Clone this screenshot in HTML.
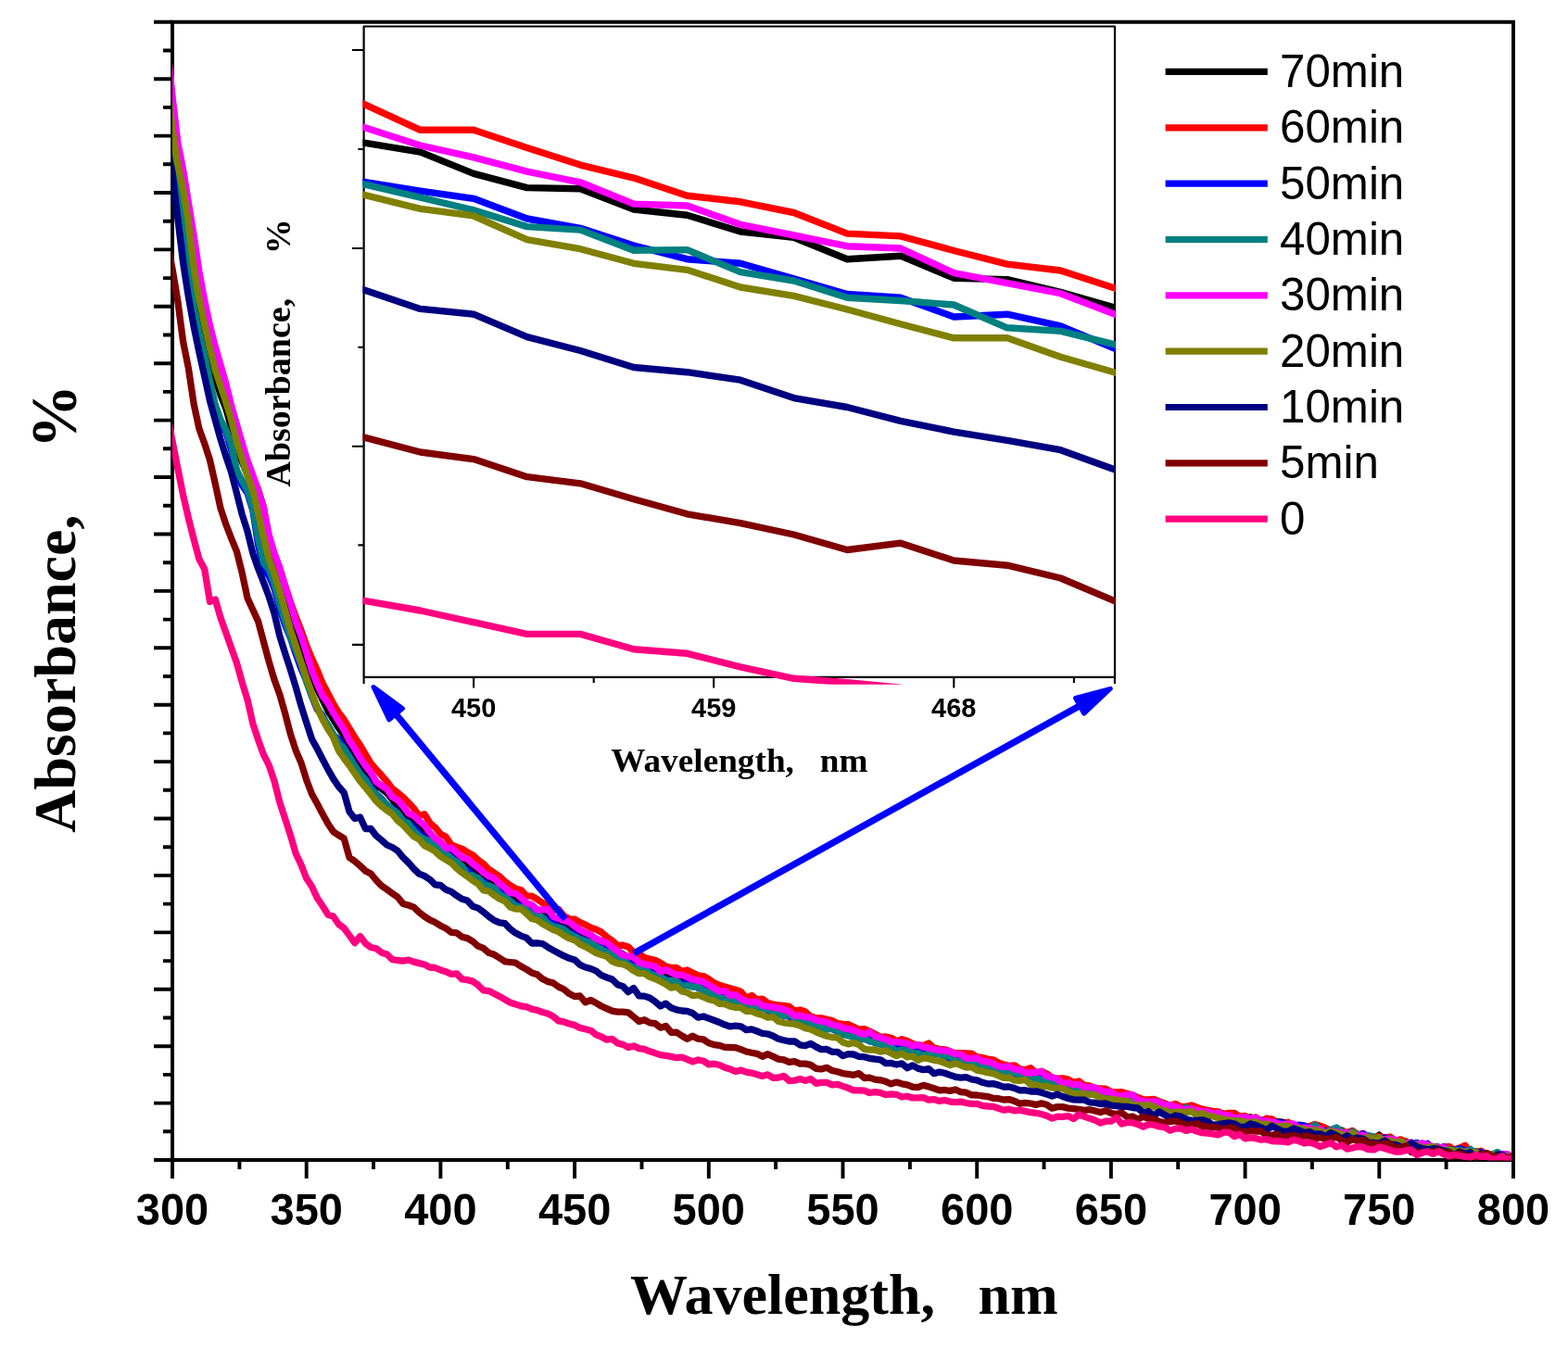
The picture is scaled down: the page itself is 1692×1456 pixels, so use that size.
<!DOCTYPE html><html><head><meta charset="utf-8"><style>html,body{margin:0;padding:0;background:#fff;}svg{display:block;}</style></head><body>
<svg width="1692" height="1456" viewBox="0 0 1692 1456">
<rect width="1692" height="1456" fill="#fff"/>
<defs><clipPath id="ci"><rect x="391.4" y="20" width="812.4" height="718.7"/></clipPath><clipPath id="cm"><rect x="186" y="0" width="1445" height="1252.5"/></clipPath></defs>
<g stroke="#000" fill="none" stroke-width="3.9" stroke-linecap="butt">
<path d="M184 23.8H1635 M1633 23.8V1254 M1635 1252H184 M186 1254V21.8"/>
<path d="M166 1252H186 M176 1221.3H186 M166 1190.6H186 M176 1159.9H186 M166 1129.2H186 M176 1098.5H186 M166 1067.8H186 M176 1037.1H186 M166 1006.4H186 M176 975.6H186 M166 944.9H186 M176 914.2H186 M166 883.5H186 M176 852.8H186 M166 822.1H186 M176 791.4H186 M166 760.7H186 M176 730H186 M166 699.3H186 M176 668.6H186 M166 637.9H186 M176 607.2H186 M166 576.5H186 M176 545.8H186 M166 515H186 M176 484.3H186 M166 453.6H186 M176 422.9H186 M166 392.2H186 M176 361.5H186 M166 330.8H186 M176 300.1H186 M166 269.4H186 M176 238.7H186 M166 208H186 M176 177.3H186 M166 146.6H186 M176 115.9H186 M166 85.2H186 M176 54.5H186 M166 23.8H186 M186 1252V1272 M258.4 1252V1262 M330.7 1252V1272 M403 1252V1262 M475.4 1252V1272 M547.8 1252V1262 M620.1 1252V1272 M692.5 1252V1262 M764.8 1252V1272 M837.1 1252V1262 M909.5 1252V1272 M981.9 1252V1262 M1054.2 1252V1272 M1126.5 1252V1262 M1198.9 1252V1272 M1271.2 1252V1262 M1343.6 1252V1272 M1415.9 1252V1262 M1488.3 1252V1272 M1560.6 1252V1262 M1633 1252V1272"/>
</g>
<g fill="none" stroke-width="7.3" stroke-linejoin="round" stroke-linecap="butt" clip-path="url(#cm)">
<polyline stroke="#000000" points="180.2,106.6 186,155.2 191.8,187.8 197.6,209.6 203.4,251 209.2,303.3 214.9,334.2 220.7,360.3 226.5,387.2 232.3,408.3 238.1,426.5 243.9,441.1 249.7,462.1 255.5,484.9 261.2,498.4 267,512.2 272.8,531.3 278.6,556.2 284.4,576.9 290.2,594.9 296,614.3 301.8,628.9 307.5,647 313.3,665.8 319.1,682.2 324.9,698.5 330.7,715.8 336.5,729.2 342.3,743.4 348.1,755.5 353.9,767.1 359.6,776.4 365.4,785.7 371.2,793.9 377,803.3 382.8,812.7 388.6,822.6 394.4,832.9 400.2,836.8 405.9,847.1 411.7,851.3 417.5,855.8 423.3,863.1 429.1,869.6 434.9,877 440.7,880.4 446.5,888.1 452.2,893.8 458,897.1 463.8,902.5 469.6,909.5 475.4,914.5 481.2,919.4 487,922.8 492.8,926.7 498.6,930.4 504.3,935.8 510.1,937.4 515.9,942.7 521.7,947.6 527.5,949.4 533.3,957.1 539.1,958.5 544.9,963.4 550.6,970 556.4,969.7 562.2,973.3 568,979 573.8,978.6 579.6,982.3 585.4,986.4 591.2,989.3 596.9,992.4 602.7,995.1 608.5,999.2 614.3,1001.7 620.1,1004.1 625.9,1005.3 631.7,1008.2 637.5,1009.6 643.3,1015.8 649,1015.8 654.8,1022.4 660.6,1026.8 666.4,1026.4 672.2,1030 678,1033.3 683.8,1037.8 689.6,1038.4 695.3,1041.8 701.1,1043.7 706.9,1046.4 712.7,1050.5 718.5,1049.7 724.3,1052.8 730.1,1054.7 735.9,1056.9 741.6,1055.8 747.4,1060.5 753.2,1061.7 759,1064.7 764.8,1066.4 770.6,1066.6 776.4,1069.9 782.2,1073.7 788,1074.7 793.7,1076.5 799.5,1080.5 805.3,1082.8 811.1,1081.8 816.9,1085.9 822.7,1082.8 828.5,1084.4 834.3,1089.7 840,1090 845.8,1092.8 851.6,1094.5 857.4,1095.6 863.2,1098.3 869,1099.4 874.8,1099.1 880.6,1103 886.3,1104.8 892.1,1108.5 897.9,1106.7 903.7,1109.8 909.5,1110.9 915.3,1113 921.1,1116.8 926.9,1116.9 932.7,1117.4 938.4,1119.7 944.2,1122 950,1121.3 955.8,1123.7 961.6,1127.2 967.4,1127.7 973.2,1127.9 979,1128.6 984.7,1130.2 990.5,1129.6 996.3,1133.8 1002.1,1134.2 1007.9,1135.1 1013.7,1134.5 1019.5,1136.3 1025.3,1139 1031,1139.9 1036.8,1140.3 1042.6,1142.9 1048.4,1144.8 1054.2,1144.2 1060,1145.8 1065.8,1146.8 1071.6,1147.9 1077.4,1151.8 1083.1,1153 1088.9,1154.3 1094.7,1153.8 1100.5,1155.5 1106.3,1158.2 1112.1,1159.2 1117.9,1161.3 1123.7,1161.7 1129.4,1164.9 1135.2,1167.8 1141,1168.9 1146.8,1170.5 1152.6,1169.9 1158.4,1172.5 1164.2,1172.2 1170,1175.4 1175.7,1175.1 1181.5,1176.3 1187.3,1177.5 1193.1,1180.6 1198.9,1181.3 1204.7,1182.5 1210.5,1182 1216.3,1184.9 1222.1,1184 1227.8,1189.2 1233.6,1188.2 1239.4,1189.8 1245.2,1190.5 1251,1189.6 1256.8,1191 1262.6,1194 1268.4,1197.2 1274.1,1194.6 1279.9,1196.2 1285.7,1198.2 1291.5,1196.9 1297.3,1197.8 1303.1,1200.6 1308.9,1202 1314.7,1202.4 1320.4,1206.1 1326.2,1204.5 1332,1206.1 1337.8,1208.8 1343.6,1209.8 1349.4,1205.8 1355.2,1208.5 1361,1211.6 1366.8,1208.6 1372.5,1210.2 1378.3,1210.5 1384.1,1211.2 1389.9,1212.5 1395.7,1215.4 1401.5,1218 1407.3,1219.2 1413.1,1217.7 1418.8,1215.4 1424.6,1219.3 1430.4,1219.7 1436.2,1221.7 1442,1221.8 1447.8,1219.9 1453.6,1224.4 1459.4,1221.2 1465.1,1224.4 1470.9,1227 1476.7,1228 1482.5,1231 1488.3,1225.1 1494.1,1230.8 1499.9,1232.3 1505.7,1231.5 1511.5,1234.1 1517.2,1231.9 1523,1236 1528.8,1236.7 1534.6,1234.8 1540.4,1236.3 1546.2,1238 1552,1237.9 1557.8,1241.9 1563.5,1241.1 1569.3,1244 1575.1,1244.5 1580.9,1243.2 1586.7,1243.5 1592.5,1242.8 1598.3,1243.8 1604.1,1244.6 1609.8,1247.6 1615.6,1246 1621.4,1248.6 1627.2,1249.6 1633,1249"/>
<polyline stroke="#FF0000" points="180.2,51.9 186,107.9 191.8,157.2 197.6,184.8 203.4,222.5 209.2,258 214.9,296.8 220.7,327.2 226.5,353 232.3,379.2 238.1,395.3 243.9,416.3 249.7,439.9 255.5,458.7 261.2,481.1 267,497.8 272.8,515 278.6,528.3 284.4,547.4 290.2,579.9 296,598.1 301.8,613.4 307.5,631.4 313.3,649.6 319.1,665.5 324.9,680.4 330.7,696.5 336.5,710.8 342.3,723.3 348.1,737.4 353.9,748.5 359.6,759.4 365.4,769 371.2,776.8 377,786.1 382.8,795.9 388.6,804.3 394.4,814.2 400.2,823.9 405.9,830.4 411.7,836.8 417.5,843.5 423.3,851.2 429.1,855.5 434.9,860.5 440.7,866.1 446.5,872.4 452.2,880.6 458,878.6 463.8,888.2 469.6,893.2 475.4,900.1 481.2,903.3 487,911.9 492.8,914.1 498.6,916.1 504.3,919.9 510.1,922.7 515.9,928.1 521.7,932.4 527.5,938.3 533.3,942.1 539.1,946 544.9,951.5 550.6,955.7 556.4,959.2 562.2,960.5 568,966.9 573.8,967.2 579.6,970.4 585.4,974.4 591.2,978.2 596.9,982.4 602.7,981.5 608.5,988.6 614.3,991.8 620.1,992.2 625.9,995.6 631.7,998.1 637.5,1001.2 643.3,1003.3 649,1006.1 654.8,1011.3 660.6,1015.2 666.4,1020.5 672.2,1020.2 678,1022 683.8,1027.8 689.6,1029.8 695.3,1033.4 701.1,1035 706.9,1036.2 712.7,1039.2 718.5,1043.1 724.3,1044.3 730.1,1044.5 735.9,1048.3 741.6,1047 747.4,1049.9 753.2,1052.8 759,1053.5 764.8,1056.6 770.6,1060.9 776.4,1063.1 782.2,1065.1 788,1066.8 793.7,1068.2 799.5,1070.5 805.3,1077.1 811.1,1074.5 816.9,1078.9 822.7,1078.1 828.5,1082.4 834.3,1084 840,1084.9 845.8,1085.4 851.6,1086.3 857.4,1091 863.2,1090 869,1091.9 874.8,1097.1 880.6,1098.8 886.3,1098.8 892.1,1100.3 897.9,1101.5 903.7,1104.5 909.5,1105.3 915.3,1105.7 921.1,1108.3 926.9,1111.2 932.7,1110.6 938.4,1113 944.2,1115.9 950,1119.3 955.8,1119 961.6,1120.2 967.4,1123.9 973.2,1121.7 979,1123.4 984.7,1126.5 990.5,1128 996.3,1128.5 1002.1,1126 1007.9,1131.2 1013.7,1132.3 1019.5,1132.8 1025.3,1134.8 1031,1137 1036.8,1136.7 1042.6,1136.8 1048.4,1137.1 1054.2,1140.9 1060,1141.4 1065.8,1143 1071.6,1143.8 1077.4,1147 1083.1,1149.1 1088.9,1150.3 1094.7,1149.8 1100.5,1153.9 1106.3,1154.6 1112.1,1152.6 1117.9,1158 1123.7,1156.1 1129.4,1158.7 1135.2,1163.1 1141,1164.1 1146.8,1163.9 1152.6,1165.1 1158.4,1168.2 1164.2,1167 1170,1171.4 1175.7,1171.9 1181.5,1174.7 1187.3,1175 1193.1,1175.2 1198.9,1178.3 1204.7,1178.9 1210.5,1178.7 1216.3,1180.4 1222.1,1181.8 1227.8,1184.5 1233.6,1186.7 1239.4,1186.9 1245.2,1186.5 1251,1188.8 1256.8,1191.2 1262.6,1193.1 1268.4,1191.4 1274.1,1194.2 1279.9,1194.4 1285.7,1193 1291.5,1195.2 1297.3,1197.2 1303.1,1198.3 1308.9,1199.4 1314.7,1200 1320.4,1202.3 1326.2,1201.3 1332,1201.3 1337.8,1205.2 1343.6,1204.4 1349.4,1207.4 1355.2,1205.9 1361,1210 1366.8,1207 1372.5,1207.9 1378.3,1211.7 1384.1,1214.3 1389.9,1211.2 1395.7,1215.8 1401.5,1216.7 1407.3,1216.4 1413.1,1215.7 1418.8,1213.4 1424.6,1215.3 1430.4,1217.4 1436.2,1220.4 1442,1220.2 1447.8,1220.3 1453.6,1222.5 1459.4,1220.4 1465.1,1224.8 1470.9,1223.4 1476.7,1228.2 1482.5,1227.2 1488.3,1226.6 1494.1,1227.9 1499.9,1227 1505.7,1231.1 1511.5,1229.9 1517.2,1232.5 1523,1235.7 1528.8,1235.1 1534.6,1236.3 1540.4,1241.2 1546.2,1238.5 1552,1240.1 1557.8,1238.4 1563.5,1237.4 1569.3,1240.9 1575.1,1239 1580.9,1236.3 1586.7,1243.9 1592.5,1244.2 1598.3,1242.3 1604.1,1247.7 1609.8,1245.8 1615.6,1245.8 1621.4,1245.7 1627.2,1250.7 1633,1248.3"/>
<polyline stroke="#0000FF" points="180.2,137.8 186,187.5 191.8,210.3 197.6,232 203.4,275.4 209.2,339.4 214.9,368 220.7,389.4 226.5,418.1 232.3,439.4 238.1,457.1 243.9,466.4 249.7,486.1 255.5,510.2 261.2,523.8 267,532.2 272.8,550.6 278.6,587.8 284.4,615.2 290.2,621.3 296,635.1 301.8,656.8 307.5,674 313.3,688.2 319.1,705.4 324.9,721.6 330.7,734.7 336.5,751.5 342.3,765.8 348.1,772.3 353.9,784 359.6,793.4 365.4,797.9 371.2,806.9 377,816.4 382.8,825.8 388.6,834.7 394.4,840.8 400.2,849.3 405.9,857 411.7,862.2 417.5,869.2 423.3,872.3 429.1,877.3 434.9,885.3 440.7,888.1 446.5,892.6 452.2,899.6 458,904.3 463.8,909.6 469.6,913.4 475.4,916.6 481.2,920.7 487,925 492.8,931.9 498.6,937.4 504.3,939.1 510.1,944.3 515.9,948.4 521.7,951.6 527.5,955.7 533.3,959.7 539.1,961.8 544.9,967 550.6,972.2 556.4,976.2 562.2,978.1 568,981.1 573.8,985.5 579.6,990.4 585.4,989.7 591.2,993 596.9,996.5 602.7,1000.8 608.5,1002.1 614.3,1006.8 620.1,1008.4 625.9,1013 631.7,1014.9 637.5,1017.7 643.3,1022.3 649,1022.8 654.8,1026.3 660.6,1031.2 666.4,1034.3 672.2,1036.5 678,1036.4 683.8,1042.7 689.6,1044.9 695.3,1046.5 701.1,1046.9 706.9,1052.7 712.7,1056 718.5,1056.5 724.3,1059.5 730.1,1058.8 735.9,1061.5 741.6,1062.1 747.4,1063.3 753.2,1066.1 759,1067.6 764.8,1070.1 770.6,1072.1 776.4,1074.5 782.2,1076.6 788,1078.9 793.7,1079 799.5,1082.7 805.3,1081.8 811.1,1085.8 816.9,1087.5 822.7,1086.2 828.5,1090.3 834.3,1093.7 840,1094.6 845.8,1095.2 851.6,1096.9 857.4,1099.7 863.2,1101.3 869,1103.9 874.8,1104.9 880.6,1107.7 886.3,1108.8 892.1,1109.2 897.9,1110.7 903.7,1113 909.5,1115.9 915.3,1116.1 921.1,1119.9 926.9,1118.6 932.7,1121.7 938.4,1122.5 944.2,1125.5 950,1126.7 955.8,1127.8 961.6,1127.8 967.4,1129.5 973.2,1131 979,1134.2 984.7,1133.3 990.5,1135.8 996.3,1137.4 1002.1,1136.3 1007.9,1137.8 1013.7,1136.8 1019.5,1140.1 1025.3,1142.6 1031,1141.8 1036.8,1144.6 1042.6,1146.5 1048.4,1147.3 1054.2,1147.7 1060,1149.9 1065.8,1150.3 1071.6,1152 1077.4,1157 1083.1,1154.9 1088.9,1156.2 1094.7,1158.7 1100.5,1160.3 1106.3,1162.4 1112.1,1161.9 1117.9,1162.9 1123.7,1164.4 1129.4,1168 1135.2,1169.8 1141,1168.8 1146.8,1170.5 1152.6,1172.5 1158.4,1172.6 1164.2,1174.5 1170,1177.7 1175.7,1176.2 1181.5,1179.6 1187.3,1182 1193.1,1180.2 1198.9,1184.4 1204.7,1184.1 1210.5,1184.6 1216.3,1187.6 1222.1,1187.7 1227.8,1188.5 1233.6,1189.2 1239.4,1189.9 1245.2,1191.4 1251,1192.9 1256.8,1195.4 1262.6,1195.1 1268.4,1196.9 1274.1,1196.9 1279.9,1199.1 1285.7,1199.4 1291.5,1202.2 1297.3,1201.7 1303.1,1200 1308.9,1203 1314.7,1203.5 1320.4,1206.3 1326.2,1205.8 1332,1207.9 1337.8,1208.6 1343.6,1207.3 1349.4,1208.7 1355.2,1210 1361,1209.2 1366.8,1216.8 1372.5,1213.3 1378.3,1211.4 1384.1,1212 1389.9,1215.2 1395.7,1215.2 1401.5,1214.2 1407.3,1214.8 1413.1,1218.4 1418.8,1218.4 1424.6,1220.6 1430.4,1220.6 1436.2,1223.5 1442,1219.5 1447.8,1224.4 1453.6,1222.9 1459.4,1223.5 1465.1,1227.6 1470.9,1223.6 1476.7,1227.6 1482.5,1228.1 1488.3,1231.7 1494.1,1228 1499.9,1232.1 1505.7,1233.2 1511.5,1233.3 1517.2,1234.4 1523,1234.9 1528.8,1233.4 1534.6,1236 1540.4,1234.2 1546.2,1240.4 1552,1241.2 1557.8,1237.6 1563.5,1243.3 1569.3,1241.5 1575.1,1239.7 1580.9,1241.9 1586.7,1245.2 1592.5,1244.6 1598.3,1243.5 1604.1,1247.6 1609.8,1246.6 1615.6,1246.8 1621.4,1246.1 1627.2,1250.3 1633,1251.7"/>
<polyline stroke="#008080" points="180.2,131.7 186,179.5 191.8,205.6 197.6,227.4 203.4,267.3 209.2,332.3 214.9,359.1 220.7,383.8 226.5,410.9 232.3,436.8 238.1,453.1 243.9,464 249.7,480.8 255.5,507.3 261.2,519.1 267,529.7 272.8,548.1 278.6,580.9 284.4,607.6 290.2,614.4 296,630.6 301.8,651.9 307.5,669.9 313.3,687.4 319.1,701.5 324.9,717 330.7,735.7 336.5,751.3 342.3,763.1 348.1,774.2 353.9,782.3 359.6,792.2 365.4,802.3 371.2,808.1 377,817.3 382.8,826.6 388.6,835.4 394.4,842 400.2,851.1 405.9,857.6 411.7,863.6 417.5,868.5 423.3,873.9 429.1,877.6 434.9,886.1 440.7,888.8 446.5,896.7 452.2,902.5 458,905.8 463.8,908.2 469.6,910.9 475.4,915.8 481.2,921.5 487,926.6 492.8,930.1 498.6,935.1 504.3,943.7 510.1,945 515.9,947.5 521.7,954.1 527.5,956.2 533.3,958.3 539.1,965.4 544.9,967.9 550.6,972.5 556.4,978.2 562.2,979.3 568,981.4 573.8,987.7 579.6,986.1 585.4,990.4 591.2,996.8 596.9,1000 602.7,1000.9 608.5,1003.4 614.3,1007.7 620.1,1010.8 625.9,1013.6 631.7,1015.8 637.5,1017.7 643.3,1021.4 649,1024.8 654.8,1027.8 660.6,1030.5 666.4,1034.1 672.2,1035 678,1041.2 683.8,1044.5 689.6,1044.6 695.3,1046.1 701.1,1050.7 706.9,1053.3 712.7,1054.7 718.5,1058.2 724.3,1058.3 730.1,1059.4 735.9,1064.3 741.6,1063.5 747.4,1065.3 753.2,1064.9 759,1069.4 764.8,1071.2 770.6,1074 776.4,1076.8 782.2,1078 788,1078.1 793.7,1082.6 799.5,1083.5 805.3,1085.4 811.1,1086.4 816.9,1088.2 822.7,1088 828.5,1089.5 834.3,1092.2 840,1093.9 845.8,1096.7 851.6,1094.1 857.4,1099.2 863.2,1100.7 869,1104.8 874.8,1104.6 880.6,1106.5 886.3,1109 892.1,1111.2 897.9,1110.1 903.7,1112.7 909.5,1116.7 915.3,1118 921.1,1119.3 926.9,1122.8 932.7,1120.7 938.4,1124.2 944.2,1125 950,1127.4 955.8,1127.6 961.6,1130.2 967.4,1134.3 973.2,1133.1 979,1133.8 984.7,1136.6 990.5,1136.6 996.3,1139.5 1002.1,1136.9 1007.9,1137.7 1013.7,1137.6 1019.5,1140 1025.3,1140 1031,1145.3 1036.8,1144.9 1042.6,1146.7 1048.4,1147.6 1054.2,1148.8 1060,1149.9 1065.8,1149.8 1071.6,1155 1077.4,1154.1 1083.1,1158.3 1088.9,1158.4 1094.7,1157.3 1100.5,1160 1106.3,1161.4 1112.1,1162.6 1117.9,1163.9 1123.7,1166 1129.4,1166.6 1135.2,1167.8 1141,1170.2 1146.8,1171.5 1152.6,1172.1 1158.4,1174.7 1164.2,1174.9 1170,1177.3 1175.7,1178 1181.5,1180.9 1187.3,1178.2 1193.1,1184.1 1198.9,1182.5 1204.7,1185.9 1210.5,1184.6 1216.3,1186.3 1222.1,1188.3 1227.8,1188.3 1233.6,1189.2 1239.4,1190.8 1245.2,1194.2 1251,1190.8 1256.8,1194.2 1262.6,1197.3 1268.4,1196 1274.1,1199.6 1279.9,1195.3 1285.7,1197.5 1291.5,1199.6 1297.3,1200.1 1303.1,1201.1 1308.9,1203.9 1314.7,1202.3 1320.4,1205.2 1326.2,1206 1332,1206.2 1337.8,1210.5 1343.6,1207.6 1349.4,1212.1 1355.2,1208.8 1361,1211.4 1366.8,1212 1372.5,1211.1 1378.3,1214.3 1384.1,1216 1389.9,1216 1395.7,1215.8 1401.5,1218.7 1407.3,1218.6 1413.1,1218.8 1418.8,1214.2 1424.6,1219.5 1430.4,1222 1436.2,1219.4 1442,1217 1447.8,1221.5 1453.6,1223.5 1459.4,1221.7 1465.1,1224.7 1470.9,1226.9 1476.7,1225.6 1482.5,1227.1 1488.3,1231.5 1494.1,1229.9 1499.9,1229 1505.7,1232.7 1511.5,1234 1517.2,1234 1523,1234.6 1528.8,1234.3 1534.6,1241.7 1540.4,1235.7 1546.2,1238.5 1552,1240.2 1557.8,1242.1 1563.5,1240.1 1569.3,1242.2 1575.1,1241.3 1580.9,1243.9 1586.7,1240.3 1592.5,1247.1 1598.3,1246.1 1604.1,1247.6 1609.8,1246.6 1615.6,1243.5 1621.4,1246.4 1627.2,1248.4 1633,1252.7"/>
<polyline stroke="#FF00FF" points="180.2,45.8 186,104.3 191.8,153.8 197.6,183.4 203.4,219 209.2,254.8 214.9,293.1 220.7,324 226.5,351.8 232.3,374.1 238.1,394.4 243.9,414.8 249.7,437.9 255.5,459.2 261.2,477.7 267,497.6 272.8,512.7 278.6,530.3 284.4,548.3 290.2,577.2 296,597.3 301.8,612.8 307.5,632.7 313.3,650.4 319.1,671.1 324.9,686.3 330.7,704.7 336.5,723.9 342.3,738.3 348.1,751.1 353.9,758.7 359.6,769.2 365.4,778.6 371.2,787.4 377,799.3 382.8,808.1 388.6,818.2 394.4,826.4 400.2,833.6 405.9,843.7 411.7,847.9 417.5,851.7 423.3,860.2 429.1,863.6 434.9,870 440.7,877.9 446.5,880.4 452.2,886 458,890.7 463.8,898.6 469.6,904.9 475.4,908.6 481.2,915.5 487,915.2 492.8,920.1 498.6,925.4 504.3,927.2 510.1,932.2 515.9,936.6 521.7,941.7 527.5,945.7 533.3,948 539.1,953.9 544.9,957.9 550.6,963.6 556.4,964.3 562.2,968.8 568,974.5 573.8,976.4 579.6,982 585.4,981.8 591.2,981.5 596.9,989.2 602.7,991.2 608.5,993.6 614.3,995.3 620.1,999.8 625.9,1003.8 631.7,1006.6 637.5,1009.3 643.3,1013.1 649,1015.8 654.8,1017.6 660.6,1022.6 666.4,1026.2 672.2,1031.2 678,1031.9 683.8,1033.5 689.6,1038.9 695.3,1040.9 701.1,1041.7 706.9,1043.2 712.7,1048.7 718.5,1046.7 724.3,1049.8 730.1,1052.5 735.9,1052.2 741.6,1054.8 747.4,1057.3 753.2,1058.2 759,1059.8 764.8,1063.4 770.6,1066.5 776.4,1070.2 782.2,1069.5 788,1074.6 793.7,1073.5 799.5,1078.1 805.3,1080.8 811.1,1081.5 816.9,1081.3 822.7,1085.3 828.5,1086.3 834.3,1087.2 840,1088.1 845.8,1089.6 851.6,1091.7 857.4,1096.5 863.2,1096 869,1097.7 874.8,1098.3 880.6,1101.1 886.3,1102.1 892.1,1103.3 897.9,1106 903.7,1107 909.5,1109.4 915.3,1110.8 921.1,1111.7 926.9,1114.8 932.7,1116.5 938.4,1113.9 944.2,1118.5 950,1120.1 955.8,1121.5 961.6,1124.7 967.4,1124.6 973.2,1125.3 979,1126.1 984.7,1129 990.5,1127.5 996.3,1130.2 1002.1,1131 1007.9,1132.5 1013.7,1133.7 1019.5,1133.9 1025.3,1135.1 1031,1137.7 1036.8,1138.1 1042.6,1142.2 1048.4,1142.3 1054.2,1141.9 1060,1145.3 1065.8,1145.9 1071.6,1147.9 1077.4,1151 1083.1,1151.7 1088.9,1150.9 1094.7,1154.2 1100.5,1154.5 1106.3,1157.8 1112.1,1158 1117.9,1157.4 1123.7,1156.5 1129.4,1161.5 1135.2,1162.8 1141,1164.4 1146.8,1169.7 1152.6,1168.5 1158.4,1171 1164.2,1170.1 1170,1173.7 1175.7,1173.6 1181.5,1173.7 1187.3,1176.8 1193.1,1178.5 1198.9,1178.5 1204.7,1183.1 1210.5,1182.6 1216.3,1181.7 1222.1,1181.7 1227.8,1187.3 1233.6,1188.5 1239.4,1189.5 1245.2,1188.6 1251,1189.8 1256.8,1192.9 1262.6,1192.7 1268.4,1194.4 1274.1,1196.4 1279.9,1198.1 1285.7,1196.5 1291.5,1198.4 1297.3,1199.9 1303.1,1199.7 1308.9,1202.8 1314.7,1200.9 1320.4,1204 1326.2,1203.6 1332,1206.9 1337.8,1206.1 1343.6,1205.9 1349.4,1207.2 1355.2,1206.6 1361,1210.5 1366.8,1210 1372.5,1210.8 1378.3,1212.7 1384.1,1213.8 1389.9,1213.2 1395.7,1212.9 1401.5,1217.4 1407.3,1217.1 1413.1,1217.6 1418.8,1219.6 1424.6,1218.7 1430.4,1222.6 1436.2,1220.6 1442,1221.4 1447.8,1222.9 1453.6,1223 1459.4,1224.2 1465.1,1225.6 1470.9,1225.1 1476.7,1228 1482.5,1228.3 1488.3,1232.5 1494.1,1229.5 1499.9,1229.7 1505.7,1230.4 1511.5,1233.6 1517.2,1234.3 1523,1233 1528.8,1237.2 1534.6,1233.6 1540.4,1235.7 1546.2,1237.4 1552,1238.9 1557.8,1238.2 1563.5,1243.2 1569.3,1243.6 1575.1,1242.5 1580.9,1243.2 1586.7,1243.7 1592.5,1244.6 1598.3,1246.8 1604.1,1247.8 1609.8,1247.9 1615.6,1247 1621.4,1245.5 1627.2,1245.9 1633,1250.5"/>
<polyline stroke="#808000" points="180.2,88.2 186,139.2 191.8,177.8 197.6,204.2 203.4,240.5 209.2,289.6 214.9,322.2 220.7,350.5 226.5,376 232.3,399.7 238.1,417.2 243.9,434.4 249.7,453.5 255.5,476.9 261.2,495.5 267,513.6 272.8,529.2 278.6,553.4 284.4,579.5 290.2,603.6 296,619 301.8,638.4 307.5,658.2 313.3,679.1 319.1,696.6 324.9,714.6 330.7,731.9 336.5,748.3 342.3,764.1 348.1,776.5 353.9,786.9 359.6,795.9 365.4,810.1 371.2,818.5 377,826.3 382.8,834.7 388.6,843.1 394.4,849.9 400.2,857.2 405.9,864.5 411.7,870.1 417.5,874.6 423.3,878.5 429.1,885.7 434.9,890.4 440.7,896.7 446.5,902.7 452.2,905.9 458,912.6 463.8,915.4 469.6,919 475.4,924.4 481.2,927.9 487,931.3 492.8,937.2 498.6,942 504.3,945.9 510.1,950.3 515.9,954 521.7,961 527.5,961.9 533.3,966.2 539.1,970.1 544.9,972.6 550.6,979 556.4,981.1 562.2,981 568,985.9 573.8,991.5 579.6,993 585.4,997.1 591.2,1000.4 596.9,1003.5 602.7,1005.6 608.5,1009.5 614.3,1012.8 620.1,1014.7 625.9,1019.2 631.7,1021.9 637.5,1025.2 643.3,1028.6 649,1030.5 654.8,1032.2 660.6,1037.5 666.4,1039.8 672.2,1040.6 678,1043.3 683.8,1047.8 689.6,1050.7 695.3,1050.4 701.1,1054.4 706.9,1056.5 712.7,1059.3 718.5,1062.4 724.3,1066.1 730.1,1064.9 735.9,1069.9 741.6,1071.3 747.4,1074.6 753.2,1073.8 759,1076 764.8,1078.7 770.6,1079.9 776.4,1083.4 782.2,1083.6 788,1086.2 793.7,1087.4 799.5,1087.6 805.3,1091.4 811.1,1091.5 816.9,1094 822.7,1095.5 828.5,1098.1 834.3,1097.6 840,1102.5 845.8,1103.8 851.6,1104.7 857.4,1105.2 863.2,1106.9 869,1109.7 874.8,1111 880.6,1113.8 886.3,1116.1 892.1,1118.2 897.9,1119.5 903.7,1119.9 909.5,1125 915.3,1126.9 921.1,1125.4 926.9,1127.7 932.7,1132.4 938.4,1133 944.2,1133 950,1135.1 955.8,1133.9 961.6,1136.8 967.4,1139.6 973.2,1136.9 979,1140.9 984.7,1140 990.5,1144.4 996.3,1141.8 1002.1,1142.7 1007.9,1144.3 1013.7,1145.2 1019.5,1147.3 1025.3,1149.6 1031,1147.7 1036.8,1149.9 1042.6,1152.2 1048.4,1151.7 1054.2,1155.1 1060,1156.3 1065.8,1157.7 1071.6,1158.6 1077.4,1161 1083.1,1163.3 1088.9,1163 1094.7,1166.1 1100.5,1166.3 1106.3,1165.4 1112.1,1170.5 1117.9,1170.6 1123.7,1173.2 1129.4,1172.2 1135.2,1174.1 1141,1174.6 1146.8,1174.7 1152.6,1178 1158.4,1180.8 1164.2,1180.2 1170,1180.7 1175.7,1181.4 1181.5,1181.7 1187.3,1184.8 1193.1,1186.4 1198.9,1186.2 1204.7,1187.2 1210.5,1188 1216.3,1188.5 1222.1,1192.8 1227.8,1193 1233.6,1193.1 1239.4,1192.5 1245.2,1194.4 1251,1197.5 1256.8,1198.4 1262.6,1201.7 1268.4,1200.2 1274.1,1200.2 1279.9,1200.9 1285.7,1199.3 1291.5,1203.9 1297.3,1201.3 1303.1,1204.4 1308.9,1204.9 1314.7,1206.9 1320.4,1208 1326.2,1209.1 1332,1209.7 1337.8,1209.6 1343.6,1211.3 1349.4,1211.7 1355.2,1210.6 1361,1213.7 1366.8,1213 1372.5,1214.9 1378.3,1216.2 1384.1,1215.3 1389.9,1215.1 1395.7,1218.9 1401.5,1217.6 1407.3,1218.8 1413.1,1221 1418.8,1219.4 1424.6,1221.3 1430.4,1222.7 1436.2,1221 1442,1222.2 1447.8,1224.2 1453.6,1226.6 1459.4,1223 1465.1,1227.8 1470.9,1229 1476.7,1227.6 1482.5,1229 1488.3,1227.4 1494.1,1232.4 1499.9,1231 1505.7,1233.4 1511.5,1231.6 1517.2,1236.5 1523,1234.5 1528.8,1236.4 1534.6,1238.8 1540.4,1238.6 1546.2,1237.4 1552,1239.9 1557.8,1241.5 1563.5,1241.3 1569.3,1242.1 1575.1,1242.3 1580.9,1243.1 1586.7,1244.1 1592.5,1243.4 1598.3,1246.6 1604.1,1247.6 1609.8,1246.2 1615.6,1246.8 1621.4,1247.7 1627.2,1248 1633,1250.3"/>
<polyline stroke="#000080" points="180.2,158.3 186,186.2 191.8,235.7 197.6,283.6 203.4,320.7 209.2,352.8 214.9,380.3 220.7,406.2 226.5,432.8 232.3,453.5 238.1,474.5 243.9,492.9 249.7,510 255.5,532.7 261.2,555 267,573.4 272.8,597.1 278.6,613.7 284.4,628.3 290.2,643.8 296,662.2 301.8,686.3 307.5,704.6 313.3,722.4 319.1,741.3 324.9,761.7 330.7,779.8 336.5,797.7 342.3,808.1 348.1,819.5 353.9,830.4 359.6,840.4 365.4,849 371.2,855.5 377,876 382.8,883.4 388.6,882 394.4,894.5 400.2,894.5 405.9,902 411.7,906.8 417.5,912 423.3,914.5 429.1,918.3 434.9,925.4 440.7,931 446.5,937.7 452.2,943.2 458,945.4 463.8,949.2 469.6,954.9 475.4,955.5 481.2,960.3 487,962.4 492.8,966.7 498.6,970.3 504.3,972 510.1,978.2 515.9,980.1 521.7,984.4 527.5,989.2 533.3,993.4 539.1,995.9 544.9,996.7 550.6,1002.7 556.4,1007.1 562.2,1010.1 568,1012.1 573.8,1018 579.6,1017.8 585.4,1018.5 591.2,1022.3 596.9,1025.6 602.7,1028.7 608.5,1031.7 614.3,1034.3 620.1,1035.9 625.9,1041.4 631.7,1044 637.5,1045.5 643.3,1048 649,1052.7 654.8,1055 660.6,1057 666.4,1062.7 672.2,1064.6 678,1070.6 683.8,1066.5 689.6,1074.9 695.3,1075.1 701.1,1077 706.9,1081 712.7,1086.1 718.5,1083.1 724.3,1087.8 730.1,1089.9 735.9,1091 741.6,1091.3 747.4,1093.5 753.2,1098.2 759,1097 764.8,1099.2 770.6,1101.3 776.4,1103.5 782.2,1106.1 788,1107.9 793.7,1107.2 799.5,1107.8 805.3,1111.6 811.1,1110.9 816.9,1113 822.7,1115.3 828.5,1116 834.3,1118.2 840,1121.2 845.8,1122.7 851.6,1124 857.4,1123.9 863.2,1127.8 869,1128.6 874.8,1126.3 880.6,1129.9 886.3,1132.7 892.1,1132.4 897.9,1135.3 903.7,1135.3 909.5,1139.6 915.3,1137.6 921.1,1138 926.9,1140.3 932.7,1140.7 938.4,1142.3 944.2,1143.1 950,1143.8 955.8,1147.6 961.6,1147.5 967.4,1149 973.2,1147.9 979,1152.7 984.7,1149.9 990.5,1153.1 996.3,1154.6 1002.1,1153.6 1007.9,1158.7 1013.7,1157.1 1019.5,1158.3 1025.3,1160.4 1031,1162.3 1036.8,1163.1 1042.6,1162.6 1048.4,1165 1054.2,1165.9 1060,1168.3 1065.8,1169.8 1071.6,1169.6 1077.4,1171.1 1083.1,1173.1 1088.9,1173 1094.7,1174.5 1100.5,1176.9 1106.3,1176.7 1112.1,1178 1117.9,1177.9 1123.7,1179.3 1129.4,1180.9 1135.2,1183.1 1141,1181.1 1146.8,1183.5 1152.6,1185.5 1158.4,1186.9 1164.2,1187.2 1170,1187.1 1175.7,1189.8 1181.5,1190.2 1187.3,1191.5 1193.1,1191 1198.9,1193.2 1204.7,1193.6 1210.5,1194.4 1216.3,1194.4 1222.1,1195.5 1227.8,1196 1233.6,1201.1 1239.4,1199.6 1245.2,1204.2 1251,1200 1256.8,1203.3 1262.6,1206.5 1268.4,1204 1274.1,1205 1279.9,1208 1285.7,1209.1 1291.5,1209.3 1297.3,1208.8 1303.1,1210.4 1308.9,1214.2 1314.7,1213.5 1320.4,1212.6 1326.2,1211.8 1332,1213 1337.8,1216.5 1343.6,1216.3 1349.4,1212.9 1355.2,1214.6 1361,1217.2 1366.8,1219.8 1372.5,1215.3 1378.3,1218.4 1384.1,1221 1389.9,1221.4 1395.7,1218.1 1401.5,1219.9 1407.3,1222.5 1413.1,1221.6 1418.8,1224.2 1424.6,1223.9 1430.4,1226.7 1436.2,1222.7 1442,1225.6 1447.8,1229.2 1453.6,1225.8 1459.4,1229.5 1465.1,1228 1470.9,1229.2 1476.7,1233.1 1482.5,1233.3 1488.3,1234.3 1494.1,1231.1 1499.9,1234.8 1505.7,1235.5 1511.5,1237.7 1517.2,1239 1523,1233.6 1528.8,1237.8 1534.6,1239.4 1540.4,1240.9 1546.2,1239.7 1552,1240.2 1557.8,1242.1 1563.5,1243.5 1569.3,1246.9 1575.1,1243 1580.9,1245.4 1586.7,1244 1592.5,1249.7 1598.3,1245.1 1604.1,1247.6 1609.8,1250.5 1615.6,1246.2 1621.4,1246.5 1627.2,1250.7 1633,1248.7"/>
<polyline stroke="#800000" points="180.2,260.1 186,290.1 191.8,324.7 197.6,368.8 203.4,397.6 209.2,436.2 214.9,462.7 220.7,478.7 226.5,496.6 232.3,522.2 238.1,548.9 243.9,566.3 249.7,581.2 255.5,595.3 261.2,618.2 267,645.4 272.8,658.1 278.6,670.6 284.4,692.5 290.2,714 296,733.6 301.8,749.4 307.5,769.5 313.3,791.8 319.1,809.7 324.9,823.2 330.7,841.7 336.5,857 342.3,867.5 348.1,878.5 353.9,889 359.6,897.6 365.4,901.5 371.2,905 377,925.4 382.8,929.5 388.6,934.5 394.4,940 400.2,943 405.9,950 411.7,956 417.5,960.1 423.3,964.3 429.1,968.3 434.9,975.4 440.7,977 446.5,979.2 452.2,984.6 458,989.1 463.8,992.9 469.6,995.5 475.4,999.2 481.2,1002 487,1006.4 492.8,1006.9 498.6,1011.2 504.3,1012.6 510.1,1016.1 515.9,1021.2 521.7,1023.4 527.5,1028.4 533.3,1030.3 539.1,1034 544.9,1037.8 550.6,1038.5 556.4,1039.2 562.2,1043 568,1046.1 573.8,1049.9 579.6,1051.7 585.4,1056.6 591.2,1059.5 596.9,1060.9 602.7,1065.1 608.5,1067.8 614.3,1072.6 620.1,1075.5 625.9,1075 631.7,1081.8 637.5,1079.3 643.3,1082.6 649,1086 654.8,1088.6 660.6,1091.2 666.4,1092.2 672.2,1092.1 678,1092.8 683.8,1097.5 689.6,1102.4 695.3,1100.7 701.1,1103.9 706.9,1104.6 712.7,1109.2 718.5,1107.4 724.3,1114.4 730.1,1114.2 735.9,1118 741.6,1121.4 747.4,1118.3 753.2,1121.2 759,1121.9 764.8,1125.7 770.6,1127.6 776.4,1128.4 782.2,1130.4 788,1130.5 793.7,1130.7 799.5,1132.6 805.3,1135 811.1,1136.2 816.9,1137.3 822.7,1140.3 828.5,1137.7 834.3,1140.4 840,1143.1 845.8,1143.9 851.6,1146.4 857.4,1145.7 863.2,1148.1 869,1148.1 874.8,1149.4 880.6,1153.3 886.3,1153.9 892.1,1152.3 897.9,1155.5 903.7,1156.8 909.5,1158.6 915.3,1159.4 921.1,1160.3 926.9,1158.6 932.7,1163.5 938.4,1163.1 944.2,1165.1 950,1165.8 955.8,1167.3 961.6,1169.8 967.4,1168.1 973.2,1169.8 979,1170.8 984.7,1173.2 990.5,1173.6 996.3,1171.4 1002.1,1172.9 1007.9,1174.8 1013.7,1176.8 1019.5,1176.5 1025.3,1177.4 1031,1176 1036.8,1178.6 1042.6,1179.2 1048.4,1181.9 1054.2,1182 1060,1182.8 1065.8,1183.6 1071.6,1185.3 1077.4,1185.7 1083.1,1187 1088.9,1186.6 1094.7,1188.4 1100.5,1191.2 1106.3,1190.3 1112.1,1191 1117.9,1192.4 1123.7,1190.8 1129.4,1192.2 1135.2,1196.1 1141,1194.6 1146.8,1194.6 1152.6,1196.1 1158.4,1196.6 1164.2,1197.3 1170,1198.4 1175.7,1197.7 1181.5,1198.9 1187.3,1200.6 1193.1,1198.6 1198.9,1201.4 1204.7,1202.5 1210.5,1201.1 1216.3,1205.7 1222.1,1205 1227.8,1208 1233.6,1205.3 1239.4,1207.2 1245.2,1207.8 1251,1210.6 1256.8,1211.7 1262.6,1210.5 1268.4,1209.9 1274.1,1211.9 1279.9,1213.9 1285.7,1214.1 1291.5,1212.6 1297.3,1215.4 1303.1,1216.1 1308.9,1216.4 1314.7,1217.2 1320.4,1219.4 1326.2,1216.8 1332,1217.5 1337.8,1221.2 1343.6,1221.5 1349.4,1220.7 1355.2,1221 1361,1221 1366.8,1225.6 1372.5,1225.1 1378.3,1224 1384.1,1228.1 1389.9,1226 1395.7,1225.3 1401.5,1227.5 1407.3,1226 1413.1,1226.2 1418.8,1229 1424.6,1227.7 1430.4,1229.6 1436.2,1228.9 1442,1227.1 1447.8,1230.6 1453.6,1232.8 1459.4,1229.4 1465.1,1231.7 1470.9,1230.6 1476.7,1234.2 1482.5,1234.3 1488.3,1235.7 1494.1,1233.8 1499.9,1234.9 1505.7,1239.3 1511.5,1238.5 1517.2,1236.8 1523,1243.6 1528.8,1243.5 1534.6,1243.7 1540.4,1243.2 1546.2,1243.6 1552,1241.3 1557.8,1244.2 1563.5,1243.8 1569.3,1248.1 1575.1,1244.2 1580.9,1248.9 1586.7,1247.2 1592.5,1249.7 1598.3,1245.8 1604.1,1244.6 1609.8,1247.8 1615.6,1248 1621.4,1250 1627.2,1250.3 1633,1247.3"/>
<polyline stroke="#FF0080" points="180.2,445.3 186,475.9 191.8,505.5 197.6,534.4 203.4,559.4 209.2,582.4 214.9,603.5 220.7,614.2 226.5,649.4 232.3,647 238.1,667 243.9,683.2 249.7,699.5 255.5,715.8 261.2,736.3 267,755.1 272.8,780.8 278.6,798.4 284.4,814.4 290.2,825.9 296,843 301.8,865.9 307.5,883.2 313.3,901.1 319.1,921 324.9,933.3 330.7,948 336.5,956.8 342.3,969.2 348.1,977.8 353.9,987.2 359.6,989 365.4,997.5 371.2,1001.8 377,1009.6 382.8,1017.7 388.6,1010.5 394.4,1018.2 400.2,1022.5 405.9,1023.7 411.7,1028.2 417.5,1030 423.3,1035.7 429.1,1036.5 434.9,1037.1 440.7,1036.1 446.5,1038.1 452.2,1039.6 458,1041 463.8,1044 469.6,1044.5 475.4,1047 481.2,1048.7 487,1051.4 492.8,1050.9 498.6,1056.9 504.3,1057.6 510.1,1059.1 515.9,1063.3 521.7,1068.8 527.5,1069.6 533.3,1072.5 539.1,1075.4 544.9,1078.8 550.6,1082.1 556.4,1083.9 562.2,1085.9 568,1086.7 573.8,1089.1 579.6,1090.4 585.4,1092.5 591.2,1094.1 596.9,1097 602.7,1101.9 608.5,1102.9 614.3,1105 620.1,1106.4 625.9,1109.4 631.7,1110.8 637.5,1112.2 643.3,1116.8 649,1119 654.8,1122.2 660.6,1121.4 666.4,1125.9 672.2,1127.4 678,1130.5 683.8,1128.9 689.6,1131.6 695.3,1132.3 701.1,1134.8 706.9,1136.6 712.7,1138.6 718.5,1139.4 724.3,1140.4 730.1,1141.7 735.9,1141.2 741.6,1143.4 747.4,1145.9 753.2,1144 759,1145 764.8,1148.9 770.6,1148.2 776.4,1149.5 782.2,1152.3 788,1153.9 793.7,1156.5 799.5,1155.1 805.3,1157.1 811.1,1158.1 816.9,1159.7 822.7,1161.4 828.5,1159.8 834.3,1163.3 840,1163 845.8,1161.3 851.6,1166.5 857.4,1166.2 863.2,1164.5 869,1166.4 874.8,1164.5 880.6,1169.3 886.3,1168.3 892.1,1168.4 897.9,1170.9 903.7,1170.3 909.5,1172.4 915.3,1174.3 921.1,1176.9 926.9,1176.8 932.7,1177.2 938.4,1179.5 944.2,1178.6 950,1179.3 955.8,1181.7 961.6,1180.9 967.4,1181.3 973.2,1184 979,1183.2 984.7,1184.9 990.5,1184.9 996.3,1184.7 1002.1,1187.2 1007.9,1186.6 1013.7,1188.4 1019.5,1187.4 1025.3,1189.1 1031,1189.7 1036.8,1189.1 1042.6,1190.5 1048.4,1191.4 1054.2,1191.3 1060,1193.4 1065.8,1194 1071.6,1194.3 1077.4,1196.2 1083.1,1198.1 1088.9,1197.2 1094.7,1198.8 1100.5,1198.2 1106.3,1199.4 1112.1,1200.7 1117.9,1201.3 1123.7,1202.5 1129.4,1204.2 1135.2,1207.1 1141,1205.1 1146.8,1205.3 1152.6,1204.5 1158.4,1207.5 1164.2,1203 1170,1205.1 1175.7,1207.1 1181.5,1208.9 1187.3,1212 1193.1,1210.2 1198.9,1210.2 1204.7,1206.2 1210.5,1213.1 1216.3,1211.4 1222.1,1211.7 1227.8,1213.4 1233.6,1216.1 1239.4,1213.6 1245.2,1214.1 1251,1216 1256.8,1216.7 1262.6,1220.1 1268.4,1218.1 1274.1,1217.8 1279.9,1220.4 1285.7,1218.7 1291.5,1221 1297.3,1222.7 1303.1,1223.2 1308.9,1223.9 1314.7,1224.8 1320.4,1222.1 1326.2,1222.1 1332,1226.6 1337.8,1224.1 1343.6,1228.8 1349.4,1227.8 1355.2,1228.7 1361,1230.2 1366.8,1229.7 1372.5,1231.5 1378.3,1231.8 1384.1,1232 1389.9,1232.9 1395.7,1230.1 1401.5,1231.5 1407.3,1233.8 1413.1,1233.1 1418.8,1234.7 1424.6,1237.5 1430.4,1235.5 1436.2,1233.5 1442,1237.9 1447.8,1236 1453.6,1240.1 1459.4,1239 1465.1,1237.4 1470.9,1238.2 1476.7,1240.7 1482.5,1240.9 1488.3,1238 1494.1,1239.4 1499.9,1241.2 1505.7,1243 1511.5,1243 1517.2,1241.7 1523,1241 1528.8,1246.7 1534.6,1244.3 1540.4,1242.8 1546.2,1245.3 1552,1242.8 1557.8,1245.6 1563.5,1247.9 1569.3,1246.2 1575.1,1247.5 1580.9,1248.3 1586.7,1249.4 1592.5,1246.3 1598.3,1248.7 1604.1,1247.6 1609.8,1251.4 1615.6,1250.4 1621.4,1247.5 1627.2,1252.3 1633,1248.7"/>
</g>
<g font-family="Liberation Sans, Arial, sans-serif" font-weight="bold" font-size="47" text-anchor="middle" fill="#000">
<text transform="translate(186 1322) scale(1 1.02)">300</text>
<text transform="translate(330.7 1322) scale(1 1.02)">350</text>
<text transform="translate(475.4 1322) scale(1 1.02)">400</text>
<text transform="translate(620.1 1322) scale(1 1.02)">450</text>
<text transform="translate(764.8 1322) scale(1 1.02)">500</text>
<text transform="translate(909.5 1322) scale(1 1.02)">550</text>
<text transform="translate(1054.2 1322) scale(1 1.02)">600</text>
<text transform="translate(1198.9 1322) scale(1 1.02)">650</text>
<text transform="translate(1343.6 1322) scale(1 1.02)">700</text>
<text transform="translate(1488.3 1322) scale(1 1.02)">750</text>
<text transform="translate(1633 1322) scale(1 1.02)">800</text>
</g>
<text x="680" y="1417.8" font-family="Liberation Serif, Times New Roman, serif" font-weight="bold" font-size="62" xml:space="preserve" fill="#000">Wavelength,   nm</text>
<text transform="translate(81 898.7) rotate(-90)" font-family="Liberation Serif, Times New Roman, serif" font-weight="bold" font-size="64" fill="#000">Absorbance,</text>
<text transform="translate(81.5 484.0) rotate(-90)" font-family="Liberation Serif, Times New Roman, serif" font-weight="bold" font-size="69" fill="#000">%</text>
<rect x="392.6" y="28.5" width="810.4" height="702.3" fill="#fff" stroke="#000" stroke-width="2.2" stroke-linejoin="round"/>
<path d="M380 54H392.6 M386.4 161H392.6 M380 268H392.6 M386.4 374.8H392.6 M380 481.7H392.6 M386.4 588.4H392.6 M380 695.9H392.6 M511.1 730.8V742.5 M770.2 730.8V742.5 M1029.3 730.8V742.5 M640.7 730.8V737 M899.8 730.8V737 M1158.9 730.8V737 M392.6 730.8V738 M1202.9 730.8V738" stroke="#000" stroke-width="2.1" fill="none"/>
<g fill="none" stroke-width="7.4" stroke-linejoin="round" clip-path="url(#ci)">
<polyline stroke="#000000" points="386,153.1 396,154.7 453.6,164.1 511.1,187.4 568.7,202.6 626.3,203.8 683.9,226 741.5,232.3 799,250 856.6,256.3 914.2,279.7 971.8,276.2 1029.3,300.2 1086.9,301.6 1144.5,315.3 1202.1,331.8 1212.1,334.7"/>
<polyline stroke="#FF0000" points="386,109.3 396,113.9 453.6,140.3 511.1,140.3 568.7,159.4 626.3,178.1 683.9,192.1 741.5,211.2 799,217.8 856.6,229.5 914.2,252.1 971.8,254.9 1029.3,270.5 1086.9,285.1 1144.5,292 1202.1,310.7 1212.1,313.9"/>
<polyline stroke="#0000FF" points="386,195.2 396,196.8 453.6,206.1 511.1,214.3 568.7,236 626.3,246.3 683.9,265 741.5,279.7 799,284.3 856.6,300.7 914.2,317.5 971.8,321.2 1029.3,342 1086.9,339.2 1144.5,351.9 1202.1,375.8 1212.1,380"/>
<polyline stroke="#008080" points="386,197.3 396,199.6 453.6,213.1 511.1,226.7 568.7,244.6 626.3,248.1 683.9,270.3 741.5,269.6 799,293.7 856.6,303 914.2,321.2 971.8,324.5 1029.3,329 1086.9,353.8 1144.5,357.4 1202.1,371.6 1212.1,374.1"/>
<polyline stroke="#FF00FF" points="386,135.2 396,138.4 453.6,157 511.1,169.9 568.7,185.1 626.3,196.8 683.9,220.1 741.5,222 799,242.3 856.6,254 914.2,265.7 971.8,268 1029.3,294.7 1086.9,305.7 1144.5,316.7 1202.1,338.7 1212.1,342.5"/>
<polyline stroke="#808000" points="386,208.8 396,211.2 453.6,225.3 511.1,233 568.7,258.7 626.3,268.7 683.9,284.3 741.5,291.3 799,310 856.6,319.4 914.2,334 971.8,349.8 1029.3,364.8 1086.9,364.8 1144.5,385.3 1202.1,401.8 1212.1,404.7"/>
<polyline stroke="#000080" points="386,310.6 396,314 453.6,333.4 511.1,339.2 568.7,363.7 626.3,378.5 683.9,396.5 741.5,401.7 799,410.2 856.6,429.6 914.2,439.5 971.8,454.4 1029.3,466.1 1086.9,475.3 1144.5,485.7 1202.1,506.6 1212.1,510.2"/>
<polyline stroke="#800000" points="386,470.2 396,472.8 453.6,488 511.1,495.6 568.7,514.7 626.3,521.8 683.9,538.8 741.5,554.8 799,564.7 856.6,577 914.2,593.5 971.8,586.2 1029.3,605 1086.9,610.2 1144.5,624 1202.1,648.3 1212.1,652.5"/>
<polyline stroke="#FF0080" points="386,647.1 396,648.9 453.6,659 511.1,671.7 568.7,684.4 626.3,684.4 683.9,700.7 741.5,705.3 799,719.8 856.6,732.3 914.2,736.6 971.8,742.3 1029.3,752 1086.9,760 1144.5,768 1202.1,776 1212.1,777.4"/>
</g>
<g font-family="Liberation Sans, Arial, sans-serif" font-weight="bold" font-size="29" text-anchor="middle" fill="#000">
<text transform="translate(511.1 774) scale(1 1.015)">450</text>
<text transform="translate(770.2 774) scale(1 1.015)">459</text>
<text transform="translate(1029.3 774) scale(1 1.015)">468</text>
</g>
<text transform="translate(659.3 832.7) scale(1.035 1)" font-family="Liberation Serif, Times New Roman, serif" font-weight="bold" font-size="36" xml:space="preserve" fill="#000">Wavelength,   nm</text>
<text transform="translate(312.9 525.5) rotate(-90)" font-family="Liberation Serif, Times New Roman, serif" font-weight="bold" font-size="38" xml:space="preserve" fill="#000">Absorbance,     %</text>
<line x1="609.9" y1="992" x2="424.7" y2="767.7" stroke="#0000FF" stroke-width="7.2"/><polygon points="403,741.5 434.5,764.7 419.9,776.8" fill="#0000FF" stroke="#0000FF" stroke-width="5" stroke-linejoin="round"/>
<line x1="684" y1="1029" x2="1168.6" y2="759.8" stroke="#0000FF" stroke-width="7.2"/><polygon points="1198.3,743.3 1169.7,770.1 1160.5,753.4" fill="#0000FF" stroke="#0000FF" stroke-width="5" stroke-linejoin="round"/>
<g stroke-width="7.2">
<line x1="1257.6" y1="77.4" x2="1367.8" y2="77.4" stroke="#000000"/>
<line x1="1257.6" y1="137.8" x2="1367.8" y2="137.8" stroke="#FF0000"/>
<line x1="1257.6" y1="198.1" x2="1367.8" y2="198.1" stroke="#0000FF"/>
<line x1="1257.6" y1="258.5" x2="1367.8" y2="258.5" stroke="#008080"/>
<line x1="1257.6" y1="318.8" x2="1367.8" y2="318.8" stroke="#FF00FF"/>
<line x1="1257.6" y1="379.1" x2="1367.8" y2="379.1" stroke="#808000"/>
<line x1="1257.6" y1="439.5" x2="1367.8" y2="439.5" stroke="#000080"/>
<line x1="1257.6" y1="499.9" x2="1367.8" y2="499.9" stroke="#800000"/>
<line x1="1257.6" y1="560.2" x2="1367.8" y2="560.2" stroke="#FF0080"/>
</g>
<g font-family="Liberation Sans, Arial, sans-serif" font-size="49.3" fill="#000">
<text transform="translate(1381 93.9) scale(1 1.009)">70min</text>
<text transform="translate(1381 154.2) scale(1 1.009)">60min</text>
<text transform="translate(1381 214.6) scale(1 1.009)">50min</text>
<text transform="translate(1381 275) scale(1 1.009)">40min</text>
<text transform="translate(1381 335.3) scale(1 1.009)">30min</text>
<text transform="translate(1381 395.6) scale(1 1.009)">20min</text>
<text transform="translate(1381 456) scale(1 1.009)">10min</text>
<text transform="translate(1381 516.4) scale(1 1.009)">5min</text>
<text transform="translate(1381 576.7) scale(1 1.009)">0</text>
</g>
</svg></body></html>
